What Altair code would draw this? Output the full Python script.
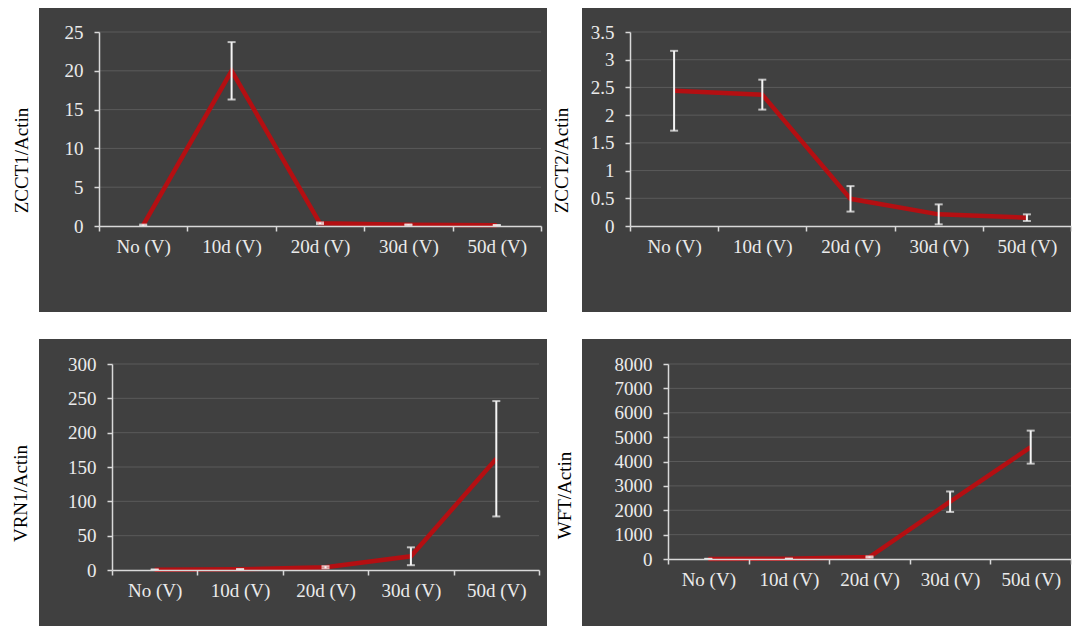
import altair as alt
import pandas as pd

# ---------------- data ----------------
categories = ["No (V)", "10d (V)", "20d (V)", "30d (V)", "50d (V)"]

zcct1_mean = [0.1, 20.0, 0.35, 0.15, 0.1]
zcct1_err = [0.08, 3.7, 0.1, 0.05, 0.03]

zcct2_mean = [2.44, 2.37, 0.49, 0.21, 0.15]
zcct2_err = [0.72, 0.27, 0.23, 0.18, 0.06]

vrn1_mean = [0.5, 1.0, 4.0, 20.0, 162.0]
vrn1_err = [0.3, 0.5, 1.5, 13.0, 84.0]

wft_mean = [5.0, 10.0, 80.0, 2350.0, 4590.0]
wft_err = [3.0, 6.0, 25.0, 420.0, 677.0]

titles = ["ZCCT1/Actin", "ZCCT2/Actin", "VRN1/Actin", "WFT/Actin"]

ticks_zcct1 = [0, 5, 10, 15, 20, 25]
ticks_zcct2 = [0, 0.5, 1, 1.5, 2, 2.5, 3, 3.5]
ticks_vrn1 = [0, 50, 100, 150, 200, 250, 300]
ticks_wft = [0, 1000, 2000, 3000, 4000, 5000, 6000, 7000, 8000]

# ---------------- style ----------------
FONT = "Liberation Serif"
DARK = "#404040"
GRID = "#5a5a5a"
AXIS = "#d9d9d9"
LABEL = "#ebebeb"
WHITE = "#f5f5f5"
RED = "#b40f12"

# layout of each panel (pixels, relative to the plot origin)
geo1 = dict(w=442, h=194, tile=(-90, 452, -24, 293), dark=(-60, 448, -24, 280), tx=-78, ty=128)
geo2 = dict(w=441, h=194, tile=(-79, 441, -24, 293), dark=(-48, 441, -24, 280), tx=-69, ty=128)
geo3 = dict(w=427, h=206, tile=(-103, 439, -39, 262), dark=(-73, 435, -25, 262), tx=-92, ty=129)
geo4 = dict(w=403, h=195, tile=(-117, 403, -39, 262), dark=(-86, 403, -25, 262), tx=-103.5, ty=131)


def panel(mean, err, title, ticks, geo):
    df = pd.DataFrame({
        "cat": categories,
        "mean": mean,
        "lo": [m - e for m, e in zip(mean, err)],
        "hi": [m + e for m, e in zip(mean, err)],
    })
    w, h = geo["w"], geo["h"]
    tx0, tx1, ty0, ty1 = geo["tile"]
    dx0, dx1, dy0, dy1 = geo["dark"]
    one = pd.DataFrame({"k": [0]})

    yscale = alt.Scale(domain=[0, ticks[-1]], nice=False, zero=True)
    xscale = alt.Scale(type="band", paddingInner=0, paddingOuter=0)

    yaxis = alt.Axis(
        values=ticks, format=".2~f", title=title,
        titleFont=FONT, titleFontSize=19, titleFontWeight="normal", titleColor="black",
        titleAngle=270, titleAlign="center", titleBaseline="middle",
        titleX=geo["tx"], titleY=geo["ty"],
        labelFont=FONT, labelFontSize=19, labelColor=LABEL, labelPadding=11,
        labelFlush=False, labelOverlap=False,
        tickSize=5, tickColor=AXIS, tickWidth=1.5,
        domainColor=AXIS, domainWidth=1.5, grid=False, zindex=1,
    )
    xaxis = alt.Axis(
        title=None, tickBand="extent", labelAngle=0,
        labelFont=FONT, labelFontSize=19, labelColor=LABEL, labelPadding=6,
        labelOverlap=False,
        tickSize=5, tickColor=AXIS, tickWidth=1.5,
        domainColor=AXIS, domainWidth=1.5, grid=False, zindex=1,
    )

    def X():
        return alt.X("cat:N", sort=categories, scale=xscale, axis=xaxis, bandPosition=0.5)

    tile = alt.Chart(one).mark_rect(color="white").encode(
        x=alt.value(tx0), x2=alt.value(tx1), y=alt.value(ty0), y2=alt.value(ty1))
    dark = alt.Chart(one).mark_rect(color=DARK).encode(
        x=alt.value(dx0), x2=alt.value(dx1), y=alt.value(dy0), y2=alt.value(dy1))
    grid = alt.Chart(pd.DataFrame({"v": ticks[1:]})).mark_rule(color=GRID, strokeWidth=1).encode(
        y=alt.Y("v:Q", scale=yscale, axis=yaxis), x=alt.value(0), x2=alt.value(w))
    line = alt.Chart(df).mark_line(color=RED, strokeWidth=4.5).encode(
        x=X(), y=alt.Y("mean:Q", scale=yscale, axis=yaxis))
    bars = alt.Chart(df).mark_rule(color=WHITE, strokeWidth=2).encode(
        x=X(), y=alt.Y("lo:Q", scale=yscale, axis=yaxis), y2="hi:Q")
    caps = alt.Chart(df).transform_fold(["lo", "hi"], as_=["end", "val"]).mark_tick(
        color=WHITE, thickness=2, size=8, orient="horizontal").encode(
        x=X(), y=alt.Y("val:Q", scale=yscale, axis=yaxis))

    return alt.layer(tile, dark, grid, line, bars, caps).properties(width=w, height=h)


def spacer():
    return alt.Chart(pd.DataFrame({"k": [0]})).mark_rect(color="white").encode(
        x=alt.value(0), x2=alt.value(1), y=alt.value(0), y2=alt.value(1)
    ).properties(width=1, height=1)


p1 = panel(zcct1_mean, zcct1_err, titles[0], ticks_zcct1, geo1)
p2 = panel(zcct2_mean, zcct2_err, titles[1], ticks_zcct2, geo2)
p3 = panel(vrn1_mean, vrn1_err, titles[2], ticks_vrn1, geo3)
p4 = panel(wft_mean, wft_err, titles[3], ticks_wft, geo4)

chart = alt.vconcat(
    alt.hconcat(spacer(), p1, p2, spacing=0),
    alt.hconcat(spacer(), p3, p4, spacing=0),
    spacing=0,
).properties(
    padding={"left": 0, "top": 0, "right": 0, "bottom": 0}
).configure_view(stroke="transparent", strokeWidth=0)

chart.save("out.html", embed_options={"renderer": "svg", "actions": False})
